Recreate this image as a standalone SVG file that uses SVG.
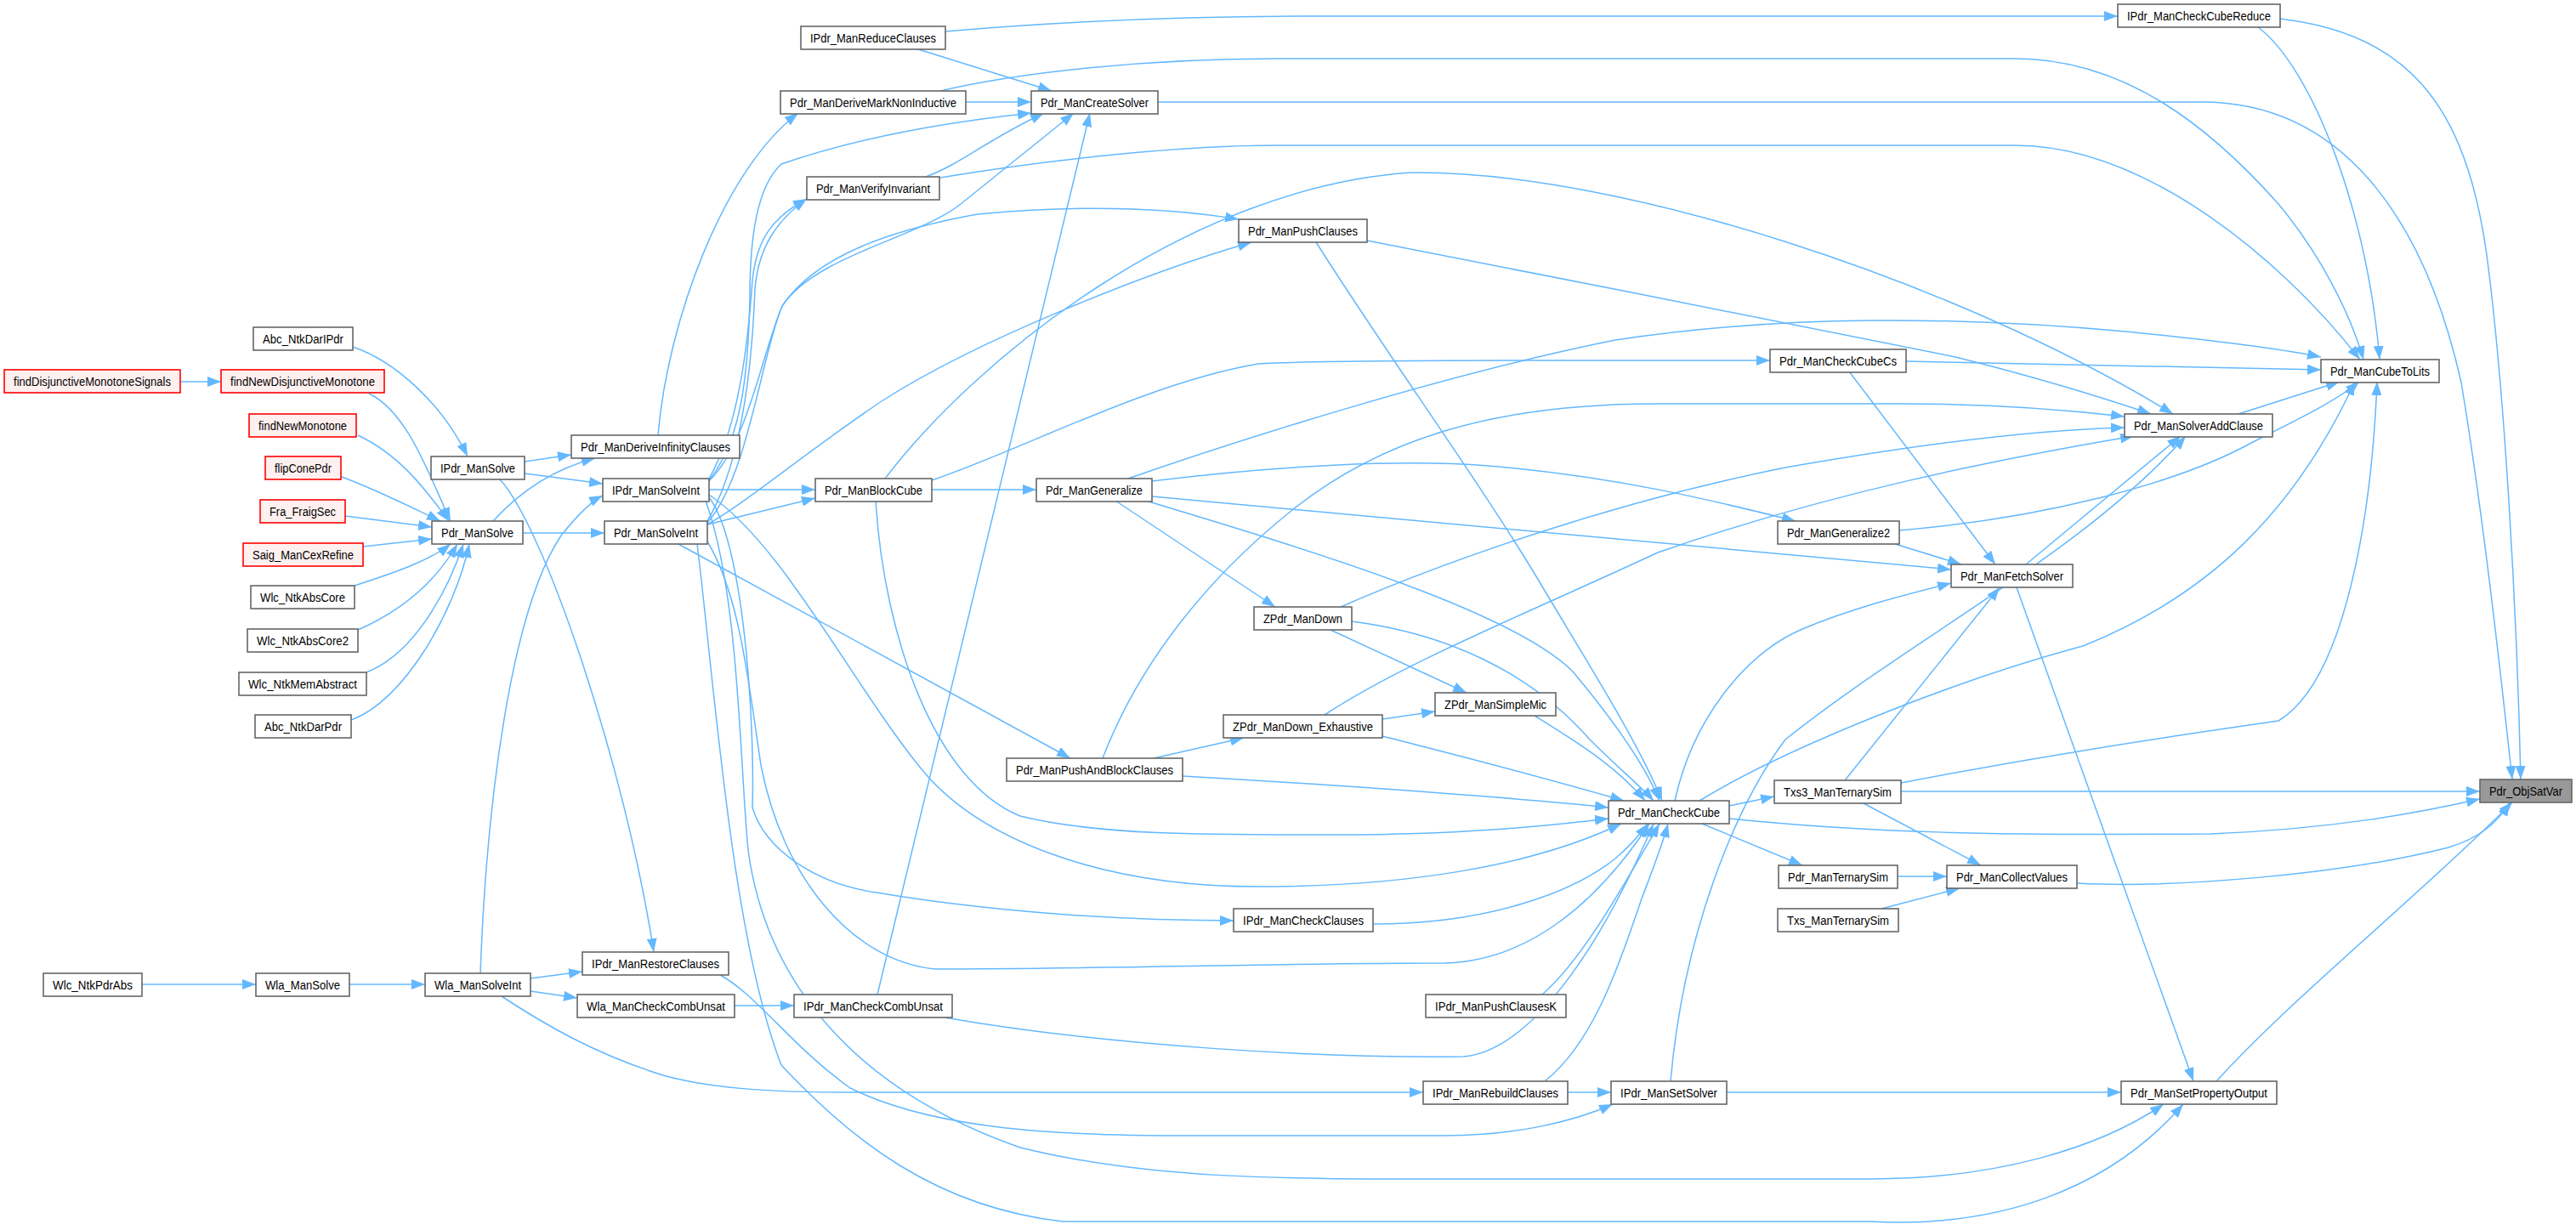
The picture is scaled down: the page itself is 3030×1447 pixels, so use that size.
<svg xmlns="http://www.w3.org/2000/svg" width="3030" height="1447" viewBox="0 0 3030 1447">
<style>
.n rect{fill:#fff;stroke:#666;stroke-width:1.6}
.r rect{fill:#fff0f0;stroke:#f00;stroke-width:1.6}
.g rect{fill:#999;stroke:#666;stroke-width:1.6}
text{font-family:"Liberation Sans",Arial,sans-serif;font-size:14px;fill:#000;text-anchor:middle}
#edges path{fill:none;stroke:#63b8ff;stroke-width:1.5;marker-end:url(#ah)}
</style>
<defs>
<marker id="ah" markerUnits="userSpaceOnUse" markerWidth="16" markerHeight="12" refX="16" refY="6" orient="auto"><path d="M0,0 L16,6 L0,12 Z" fill="#63b8ff"/></marker>
</defs>
<rect width="3030" height="1447" fill="#fff"/>
<g id="edges">
<path d="M212,449 L260,449"/>
<path d="M434,463 C480,485 505,560 530,613"/>
<path d="M415,408 C465,425 520,475 550,537"/>
<path d="M421,512 C470,535 500,575 528,613"/>
<path d="M402,561 C440,575 480,595 518,613"/>
<path d="M406,607 L508,620"/>
<path d="M427,643 L508,634"/>
<path d="M417,689 C460,675 505,660 530,640"/>
<path d="M421,741 C480,715 515,680 538,640"/>
<path d="M431,791 C485,770 525,700 545,640"/>
<path d="M413,847 C475,825 535,720 552,640"/>
<path d="M617,543 L672,535"/>
<path d="M617,557 L709,569"/>
<path d="M588,564 C640,620 735,900 769,1120"/>
<path d="M580,613 C610,580 650,552 700,539"/>
<path d="M615,627 L711,627"/>
<path d="M167,1158 L301,1158"/>
<path d="M411,1158 L500,1158"/>
<path d="M565,1145 C572,950 600,720 660,630 C680,605 695,590 709,583"/>
<path d="M624,1151 L685,1143"/>
<path d="M624,1166 L679,1174"/>
<path d="M590,1172 C640,1205 700,1240 780,1265 C840,1282 920,1285 1000,1285 L1674,1285"/>
<path d="M864,1183 L934,1183"/>
<path d="M774,512 C785,380 850,200 939,133"/>
<path d="M1112,37 C1250,25 1400,19 1550,19 L2491,19"/>
<path d="M1077,57 L1237,107"/>
<path d="M1136,120 L1213,120"/>
<path d="M1106,107 C1200,85 1350,69 1500,69 L2370,69 C2500,69 2600,150 2680,240 C2730,300 2765,370 2780,423"/>
<path d="M1362,120 L2590,120 C2750,120 2850,250 2895,450 C2920,600 2940,780 2955,917"/>
<path d="M1089,208 C1130,193 1160,165 1228,133"/>
<path d="M1106,209 C1250,185 1400,171 1500,171 L2370,171 C2520,171 2680,300 2776,423"/>
<path d="M2656,32 C2720,80 2785,250 2799,423"/>
<path d="M2682,22 C2830,40 2900,120 2925,300 C2945,450 2960,700 2965,917"/>
<path d="M1548,285 C1640,430 1750,580 1820,700 C1880,800 1930,880 1955,942"/>
<path d="M1608,283 C1800,320 2150,390 2300,420 C2400,445 2480,470 2530,487"/>
<path d="M2242,425 L2730,435"/>
<path d="M2175,437 L2347,664"/>
<path d="M2633,487 L2752,449"/>
<path d="M2234,624 C2400,610 2560,570 2650,520 C2710,490 2750,470 2775,449"/>
<path d="M2229,640 L2307,664"/>
<path d="M2383,664 L2565,513"/>
<path d="M2372,691 L2580,1272"/>
<path d="M1355,584 L2295,670"/>
<path d="M1312,589 L1500,714"/>
<path d="M1355,566 C1500,548 1650,540 1750,548 C1900,560 2020,590 2112,613"/>
<path d="M1351,590 C1550,650 1780,720 1850,790 C1900,850 1935,900 1952,942"/>
<path d="M1327,563 C1450,520 1700,440 1900,400 C2100,370 2300,372 2500,390 C2600,400 2690,412 2730,420"/>
<path d="M1096,565 C1200,530 1350,450 1480,428 C1550,424 1700,424 1800,424 L2082,424"/>
<path d="M1041,563 C1150,420 1400,220 1660,203 C1900,200 2300,330 2556,487"/>
<path d="M1096,576 L1219,576"/>
<path d="M1030,589 C1040,750 1100,920 1200,960 C1300,985 1450,982 1600,982 C1750,980 1830,970 1892,963"/>
<path d="M832,617 C880,590 950,530 1040,470 C1150,400 1350,320 1472,285"/>
<path d="M834,566 C880,520 895,420 920,360 C960,300 1050,270 1150,252 C1280,240 1380,245 1457,258"/>
<path d="M834,565 C870,520 880,450 882,350 C882,280 890,220 919,193 C1000,165 1100,145 1213,133"/>
<path d="M832,615 C880,560 895,420 920,360 C960,300 1080,280 1130,240 C1180,200 1230,160 1263,133"/>
<path d="M834,563 C870,500 880,400 885,330 C890,280 910,255 949,234"/>
<path d="M832,613 C875,540 885,420 888,340 C892,290 915,258 949,234"/>
<path d="M834,576 L959,576"/>
<path d="M832,617 L959,586"/>
<path d="M798,640 L1259,892"/>
<path d="M834,582 C920,640 1000,800 1080,900 C1150,990 1300,1043 1480,1043 C1650,1043 1800,1020 1907,969"/>
<path d="M834,585 C875,640 888,850 885,950 C900,1000 960,1040 1031,1050 C1150,1070 1300,1083 1451,1083"/>
<path d="M832,637 C870,700 880,800 895,900 C920,1030 1000,1130 1100,1140 C1300,1140 1500,1133 1700,1133 C1800,1130 1880,1060 1940,969"/>
<path d="M830,589 C870,700 870,900 880,1000 C900,1150 1000,1280 1200,1350 C1350,1387 1500,1387 1700,1387 L2200,1387 C2350,1387 2470,1350 2545,1299"/>
<path d="M820,640 C840,800 860,1100 919,1253 C1000,1340 1100,1420 1250,1437 L2200,1437 C2350,1445 2480,1400 2568,1299"/>
<path d="M847,1147 C890,1170 930,1230 1000,1280 C1100,1330 1250,1336 1400,1336 L1700,1336 C1780,1336 1850,1320 1897,1299"/>
<path d="M1357,892 L1463,868"/>
<path d="M1391,913 C1600,925 1800,940 1892,950"/>
<path d="M1297,892 C1340,780 1420,680 1520,600 C1620,520 1750,475 1950,475 L2240,475 C2350,475 2430,482 2499,490"/>
<path d="M1565,741 L1725,815"/>
<path d="M1590,731 C1700,745 1800,790 1870,870 C1905,905 1930,925 1945,942"/>
<path d="M1577,714 C1700,660 1900,590 2100,550 C2300,515 2420,505 2499,503"/>
<path d="M1626,846 L1688,837"/>
<path d="M1626,866 C1700,885 1800,910 1910,942"/>
<path d="M1558,841 C1650,780 1800,720 1950,650 C2150,580 2350,540 2510,513"/>
<path d="M1805,842 C1850,870 1900,900 1935,942"/>
<path d="M2236,931 L2917,931"/>
<path d="M2170,918 L2352,691"/>
<path d="M2236,921 C2450,880 2600,860 2680,848 C2760,800 2790,600 2796,449"/>
<path d="M2190,944 L2330,1018"/>
<path d="M2034,948 L2087,937"/>
<path d="M2002,969 L2120,1018"/>
<path d="M1970,942 C1990,850 2050,770 2120,740 C2180,715 2240,700 2295,686"/>
<path d="M1999,942 C2100,880 2300,800 2450,760 C2600,700 2700,600 2770,449"/>
<path d="M2034,963 C2200,980 2350,983 2600,981 C2750,975 2850,955 2917,940"/>
<path d="M2232,1031 L2290,1031"/>
<path d="M2213,1069 L2305,1045"/>
<path d="M2443,1039 C2550,1045 2750,1030 2880,997 C2920,985 2940,965 2952,944"/>
<path d="M2607,1272 C2700,1170 2850,1050 2955,944"/>
<path d="M1844,1285 L1895,1285"/>
<path d="M1817,1272 C1870,1230 1900,1150 1930,1060 C1945,1020 1955,995 1962,969"/>
<path d="M1814,1170 C1860,1130 1905,1050 1952,969"/>
<path d="M1615,1087 C1750,1087 1850,1050 1900,1010 C1920,993 1930,980 1938,969"/>
<path d="M1111,1197 C1300,1230 1550,1245 1722,1243 C1800,1235 1880,1120 1945,969"/>
<path d="M1032,1170 L1282,133"/>
<path d="M2031,1285 L2495,1285"/>
<path d="M1965,1272 C1980,1100 2040,950 2100,870 C2250,750 2450,650 2571,513"/>
</g>
<g id="n1" class="r"><rect x="5" y="435" width="207" height="27"/><text x="108.5" y="453.5" textLength="185" lengthAdjust="spacingAndGlyphs">findDisjunctiveMonotoneSignals</text></g>
<g id="n2" class="r"><rect x="260" y="435" width="192" height="27"/><text x="356" y="453.5" textLength="170" lengthAdjust="spacingAndGlyphs">findNewDisjunctiveMonotone</text></g>
<g id="n3" class="n"><rect x="298" y="385" width="117" height="27"/><text x="356.5" y="403.5" textLength="95" lengthAdjust="spacingAndGlyphs">Abc_NtkDarIPdr</text></g>
<g id="n4" class="r"><rect x="293" y="487" width="126" height="27"/><text x="356" y="505.5" textLength="104" lengthAdjust="spacingAndGlyphs">findNewMonotone</text></g>
<g id="n5" class="r"><rect x="312" y="537" width="89" height="27"/><text x="356.5" y="555.5" textLength="67" lengthAdjust="spacingAndGlyphs">flipConePdr</text></g>
<g id="n6" class="r"><rect x="306" y="588" width="100" height="27"/><text x="356" y="606.5" textLength="78" lengthAdjust="spacingAndGlyphs">Fra_FraigSec</text></g>
<g id="n7" class="r"><rect x="286" y="639" width="141" height="27"/><text x="356.5" y="657.5" textLength="119" lengthAdjust="spacingAndGlyphs">Saig_ManCexRefine</text></g>
<g id="n8" class="n"><rect x="295" y="689" width="122" height="27"/><text x="356" y="707.5" textLength="100" lengthAdjust="spacingAndGlyphs">Wlc_NtkAbsCore</text></g>
<g id="n9" class="n"><rect x="291" y="740" width="130" height="27"/><text x="356" y="758.5" textLength="108" lengthAdjust="spacingAndGlyphs">Wlc_NtkAbsCore2</text></g>
<g id="n10" class="n"><rect x="281" y="791" width="150" height="27"/><text x="356" y="809.5" textLength="128" lengthAdjust="spacingAndGlyphs">Wlc_NtkMemAbstract</text></g>
<g id="n11" class="n"><rect x="300" y="841" width="113" height="27"/><text x="356.5" y="859.5" textLength="91" lengthAdjust="spacingAndGlyphs">Abc_NtkDarPdr</text></g>
<g id="n12" class="n"><rect x="507" y="537" width="110" height="27"/><text x="562" y="555.5" textLength="88" lengthAdjust="spacingAndGlyphs">IPdr_ManSolve</text></g>
<g id="n13" class="n"><rect x="508" y="613" width="107" height="27"/><text x="561.5" y="631.5" textLength="85" lengthAdjust="spacingAndGlyphs">Pdr_ManSolve</text></g>
<g id="n14" class="n"><rect x="672" y="512" width="198" height="27"/><text x="771" y="530.5" textLength="176" lengthAdjust="spacingAndGlyphs">Pdr_ManDeriveInfinityClauses</text></g>
<g id="n15" class="n"><rect x="709" y="563" width="125" height="27"/><text x="771.5" y="581.5" textLength="103" lengthAdjust="spacingAndGlyphs">IPdr_ManSolveInt</text></g>
<g id="n16" class="n"><rect x="711" y="613" width="121" height="27"/><text x="771.5" y="631.5" textLength="99" lengthAdjust="spacingAndGlyphs">Pdr_ManSolveInt</text></g>
<g id="n17" class="n"><rect x="959" y="563" width="137" height="27"/><text x="1027.5" y="581.5" textLength="115" lengthAdjust="spacingAndGlyphs">Pdr_ManBlockCube</text></g>
<g id="n18" class="n"><rect x="1219" y="563" width="136" height="27"/><text x="1287" y="581.5" textLength="114" lengthAdjust="spacingAndGlyphs">Pdr_ManGeneralize</text></g>
<g id="n19" class="n"><rect x="942" y="31" width="170" height="27"/><text x="1027" y="49.5" textLength="148" lengthAdjust="spacingAndGlyphs">IPdr_ManReduceClauses</text></g>
<g id="n20" class="n"><rect x="918" y="107" width="218" height="27"/><text x="1027" y="125.5" textLength="196" lengthAdjust="spacingAndGlyphs">Pdr_ManDeriveMarkNonInductive</text></g>
<g id="n21" class="n"><rect x="1213" y="107" width="149" height="27"/><text x="1287.5" y="125.5" textLength="127" lengthAdjust="spacingAndGlyphs">Pdr_ManCreateSolver</text></g>
<g id="n22" class="n"><rect x="949" y="208" width="156" height="27"/><text x="1027" y="226.5" textLength="134" lengthAdjust="spacingAndGlyphs">Pdr_ManVerifyInvariant</text></g>
<g id="n23" class="n"><rect x="1457" y="258" width="151" height="27"/><text x="1532.5" y="276.5" textLength="129" lengthAdjust="spacingAndGlyphs">Pdr_ManPushClauses</text></g>
<g id="n24" class="n"><rect x="2491" y="5" width="191" height="27"/><text x="2586.5" y="23.5" textLength="169" lengthAdjust="spacingAndGlyphs">IPdr_ManCheckCubeReduce</text></g>
<g id="n25" class="n"><rect x="2082" y="411" width="160" height="27"/><text x="2162" y="429.5" textLength="138" lengthAdjust="spacingAndGlyphs">Pdr_ManCheckCubeCs</text></g>
<g id="n26" class="n"><rect x="2730" y="423" width="139" height="27"/><text x="2799.5" y="441.5" textLength="117" lengthAdjust="spacingAndGlyphs">Pdr_ManCubeToLits</text></g>
<g id="n27" class="n"><rect x="2499" y="487" width="174" height="27"/><text x="2586" y="505.5" textLength="152" lengthAdjust="spacingAndGlyphs">Pdr_ManSolverAddClause</text></g>
<g id="n28" class="n"><rect x="2091" y="613" width="143" height="27"/><text x="2162.5" y="631.5" textLength="121" lengthAdjust="spacingAndGlyphs">Pdr_ManGeneralize2</text></g>
<g id="n29" class="n"><rect x="2295" y="664" width="143" height="27"/><text x="2366.5" y="682.5" textLength="121" lengthAdjust="spacingAndGlyphs">Pdr_ManFetchSolver</text></g>
<g id="n30" class="n"><rect x="1475" y="714" width="115" height="27"/><text x="1532.5" y="732.5" textLength="93" lengthAdjust="spacingAndGlyphs">ZPdr_ManDown</text></g>
<g id="n31" class="n"><rect x="1688" y="815" width="142" height="27"/><text x="1759" y="833.5" textLength="120" lengthAdjust="spacingAndGlyphs">ZPdr_ManSimpleMic</text></g>
<g id="n32" class="n"><rect x="1439" y="841" width="187" height="27"/><text x="1532.5" y="859.5" textLength="165" lengthAdjust="spacingAndGlyphs">ZPdr_ManDown_Exhaustive</text></g>
<g id="n33" class="n"><rect x="1184" y="892" width="207" height="27"/><text x="1287.5" y="910.5" textLength="185" lengthAdjust="spacingAndGlyphs">Pdr_ManPushAndBlockClauses</text></g>
<g id="n34" class="n"><rect x="2087" y="918" width="149" height="27"/><text x="2161.5" y="936.5" textLength="127" lengthAdjust="spacingAndGlyphs">Txs3_ManTernarySim</text></g>
<g id="n35" class="g"><rect x="2917" y="917" width="108" height="27"/><text x="2971" y="935.5" textLength="86" lengthAdjust="spacingAndGlyphs">Pdr_ObjSatVar</text></g>
<g id="n36" class="n"><rect x="1892" y="942" width="142" height="27"/><text x="1963" y="960.5" textLength="120" lengthAdjust="spacingAndGlyphs">Pdr_ManCheckCube</text></g>
<g id="n37" class="n"><rect x="2092" y="1018" width="140" height="27"/><text x="2162" y="1036.5" textLength="118" lengthAdjust="spacingAndGlyphs">Pdr_ManTernarySim</text></g>
<g id="n38" class="n"><rect x="2290" y="1018" width="153" height="27"/><text x="2366.5" y="1036.5" textLength="131" lengthAdjust="spacingAndGlyphs">Pdr_ManCollectValues</text></g>
<g id="n39" class="n"><rect x="1451" y="1069" width="164" height="27"/><text x="1533" y="1087.5" textLength="142" lengthAdjust="spacingAndGlyphs">IPdr_ManCheckClauses</text></g>
<g id="n40" class="n"><rect x="2091" y="1069" width="142" height="27"/><text x="2162" y="1087.5" textLength="120" lengthAdjust="spacingAndGlyphs">Txs_ManTernarySim</text></g>
<g id="n41" class="n"><rect x="1677" y="1170" width="165" height="27"/><text x="1759.5" y="1188.5" textLength="143" lengthAdjust="spacingAndGlyphs">IPdr_ManPushClausesK</text></g>
<g id="n42" class="n"><rect x="685" y="1120" width="172" height="27"/><text x="771" y="1138.5" textLength="150" lengthAdjust="spacingAndGlyphs">IPdr_ManRestoreClauses</text></g>
<g id="n43" class="n"><rect x="51" y="1145" width="116" height="27"/><text x="109" y="1163.5" textLength="94" lengthAdjust="spacingAndGlyphs">Wlc_NtkPdrAbs</text></g>
<g id="n44" class="n"><rect x="301" y="1145" width="110" height="27"/><text x="356" y="1163.5" textLength="88" lengthAdjust="spacingAndGlyphs">Wla_ManSolve</text></g>
<g id="n45" class="n"><rect x="500" y="1145" width="124" height="27"/><text x="562" y="1163.5" textLength="102" lengthAdjust="spacingAndGlyphs">Wla_ManSolveInt</text></g>
<g id="n46" class="n"><rect x="679" y="1170" width="185" height="27"/><text x="771.5" y="1188.5" textLength="163" lengthAdjust="spacingAndGlyphs">Wla_ManCheckCombUnsat</text></g>
<g id="n47" class="n"><rect x="934" y="1170" width="186" height="27"/><text x="1027" y="1188.5" textLength="164" lengthAdjust="spacingAndGlyphs">IPdr_ManCheckCombUnsat</text></g>
<g id="n48" class="n"><rect x="1674" y="1272" width="170" height="27"/><text x="1759" y="1290.5" textLength="148" lengthAdjust="spacingAndGlyphs">IPdr_ManRebuildClauses</text></g>
<g id="n49" class="n"><rect x="1895" y="1272" width="136" height="27"/><text x="1963" y="1290.5" textLength="114" lengthAdjust="spacingAndGlyphs">IPdr_ManSetSolver</text></g>
<g id="n50" class="n"><rect x="2495" y="1272" width="183" height="27"/><text x="2586.5" y="1290.5" textLength="161" lengthAdjust="spacingAndGlyphs">Pdr_ManSetPropertyOutput</text></g>
</svg>
